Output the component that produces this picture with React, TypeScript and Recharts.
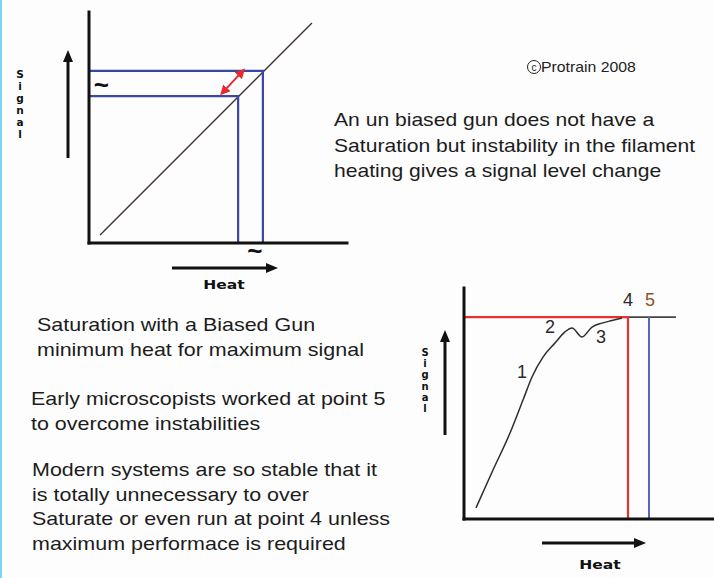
import React from 'react';
import { ComposedChart, Line, XAxis, YAxis, ReferenceDot } from 'recharts';

// ---------- Left chart (un-biased gun) ----------
const leftDiagonal = [
  { x: 4.3, y: 3.5 },
  { x: 86.4, y: 95.2 },
];
const leftUpperLevel = [
  { x: 0, y: 74.5 },
  { x: 67.4, y: 74.5 },
  { x: 67.4, y: 0 },
];
const leftLowerLevel = [
  { x: 0, y: 63.6 },
  { x: 57.8, y: 63.6 },
  { x: 57.8, y: 0 },
];
const leftShift = [
  { x: 51.6, y: 64.9 },
  { x: 59.7, y: 74.6 },
];
const leftTildes = [
  { x: 4.8, y: 68.5, label: '~' },
  { x: 64.3, y: -3.5, label: '~' },
];

// ---------- Right chart (biased gun saturation) ----------
const rightCurve = [
  { x: 4.8, y: 4.8 },
  { x: 11.6, y: 21.2 },
  { x: 18.4, y: 37.2 },
  { x: 23.6, y: 51.5 },
  { x: 27.2, y: 61.5 },
  { x: 31.6, y: 70.1 },
  { x: 36.4, y: 76.2 },
  { x: 40.4, y: 81.0 },
  { x: 43.2, y: 82.7 },
  { x: 47.2, y: 78.8 },
  { x: 51.2, y: 83.1 },
  { x: 55.2, y: 84.8 },
  { x: 59.2, y: 85.9 },
  { x: 63.2, y: 87.0 },
];
const rightRedLevel = [
  { x: 0, y: 87.4 },
  { x: 65.6, y: 87.4 },
  { x: 65.6, y: 0 },
];
const rightBlueLine = [
  { x: 74.0, y: 87.4 },
  { x: 74.0, y: 0 },
];
const rightBlackLevel = [
  { x: 65.6, y: 87.4 },
  { x: 84.8, y: 87.4 },
];
const rightPointLabels = [
  { x: 23.2, y: 63.6, label: '1', color: '#2a2a2a' },
  { x: 34.4, y: 83.1, label: '2', color: '#2a2a2a' },
  { x: 54.8, y: 78.8, label: '3', color: '#2a2a2a' },
  { x: 65.6, y: 94.6, label: '4', color: '#2a2a2a' },
  { x: 74.4, y: 94.6, label: '5', color: '#8a5526' },
];

// ---------- Texts ----------
const copyrightText = 'Protrain 2008';
const topNoteLines = [
  'An un biased gun does not have a',
  'Saturation but instability in the filament',
  'heating gives a signal level change',
];
const noteBlocks = [
  { left: 37, top: 313, lines: ['Saturation with a Biased Gun', 'minimum heat for maximum signal'] },
  { left: 31, top: 387, lines: ['Early microscopists worked at point 5', 'to overcome instabilities'] },
  { left: 32, top: 458, lines: ['Modern systems are so stable that it', 'is totally unnecessary to over', 'Saturate or even run at point 4 unless', 'maximum performace is required'] },
];
const axisWordSignal = 'Signal';
const axisWordHeat = 'Heat';

const FONT = '"Liberation Sans", Arial, sans-serif';
const BOLDFONT = '"DejaVu Sans", Verdana, sans-serif';
const W = 714;
const H = 578;

const layerStyle: React.CSSProperties = { position: 'absolute', left: 0, top: 0 };

function NumLabel(props: any) {
  const { cx, cy, text, color, size, bold } = props;
  return (
    <text
      x={cx}
      y={cy}
      textAnchor="middle"
      dominantBaseline="central"
      fontFamily={FONT}
      fontSize={size}
      fontWeight={bold ? 700 : 400}
      fill={color}
    >
      {text}
    </text>
  );
}

const axisLineStyle = { stroke: '#111', strokeWidth: 3, strokeLinecap: 'square' as const };

function LeftChart() {
  return (
    <div style={layerStyle}>
      <ComposedChart width={W} height={H} margin={{ top: 12, left: 88, right: W - 347, bottom: H - 243 - 1 }}>
        <XAxis dataKey="x" type="number" domain={[0, 100]} allowDataOverflow tick={false} tickLine={false} height={1} axisLine={axisLineStyle} />
        <YAxis dataKey="y" type="number" domain={[0, 100]} allowDataOverflow tick={false} tickLine={false} width={1} axisLine={axisLineStyle} />
        <Line data={leftDiagonal} dataKey="y" type="linear" stroke="#3d3434" strokeWidth={1.4} dot={false} activeDot={false} isAnimationActive={false} />
        <Line data={leftUpperLevel} dataKey="y" type="linear" stroke="#3b47a3" strokeWidth={2.2} dot={false} activeDot={false} isAnimationActive={false} />
        <Line data={leftLowerLevel} dataKey="y" type="linear" stroke="#3b47a3" strokeWidth={2.2} dot={false} activeDot={false} isAnimationActive={false} />
        <Line
          data={leftShift}
          dataKey="y"
          type="linear"
          stroke="#e62a2e"
          strokeWidth={2}
          dot={false}
          activeDot={false}
          isAnimationActive={false}
          markerStart="url(#redHead)"
          markerEnd="url(#redHead)"
        />
        {leftTildes.map((t, i) => (
          <ReferenceDot
            key={i}
            x={t.x}
            y={t.y}
            r={0}
            ifOverflow="visible"
            shape={(p: any) => <NumLabel cx={p.cx} cy={p.cy} text={t.label} color="#111" size={26} bold />}
          />
        ))}
      </ComposedChart>
    </div>
  );
}

function RightChart() {
  return (
    <div style={layerStyle}>
      <ComposedChart width={W} height={H} margin={{ top: 288, left: 463, right: 0, bottom: H - 519 - 1 }}>
        <XAxis dataKey="x" type="number" domain={[0, 100]} allowDataOverflow tick={false} tickLine={false} height={1} axisLine={axisLineStyle} />
        <YAxis dataKey="y" type="number" domain={[0, 100]} allowDataOverflow tick={false} tickLine={false} width={1} axisLine={axisLineStyle} />
        <Line data={rightBlackLevel} dataKey="y" type="linear" stroke="#444" strokeWidth={1.6} dot={false} activeDot={false} isAnimationActive={false} />
        <Line data={rightRedLevel} dataKey="y" type="linear" stroke="#e8312e" strokeWidth={2.2} dot={false} activeDot={false} isAnimationActive={false} />
        <Line data={rightBlueLine} dataKey="y" type="linear" stroke="#5468b8" strokeWidth={2} dot={false} activeDot={false} isAnimationActive={false} />
        <Line data={rightCurve} dataKey="y" type="monotone" stroke="#2e2e2e" strokeWidth={1.5} dot={false} activeDot={false} isAnimationActive={false} />
        {rightPointLabels.map((t, i) => (
          <ReferenceDot
            key={i}
            x={t.x}
            y={t.y}
            r={0}
            ifOverflow="visible"
            shape={(p: any) => <NumLabel cx={p.cx} cy={p.cy} text={t.label} color={t.color} size={18} />}
          />
        ))}
      </ComposedChart>
    </div>
  );
}

function SignalWord({ x, ys, size }: { x: number; ys: number[]; size: number }) {
  return (
    <text fontFamily={BOLDFONT} fontWeight={700} fontSize={size} fill="#111" textAnchor="middle" dominantBaseline="central">
      {axisWordSignal.split('').map((c, i) => (
        <tspan key={i} x={x} y={ys[i]}>{c}</tspan>
      ))}
    </text>
  );
}

function HeatWord({ x, y }: { x: number; y: number }) {
  return (
    <text
      transform={`translate(${x},${y}) scale(1.25,1)`}
      fontFamily={BOLDFONT}
      fontWeight={700}
      fontSize={12.5}
      fill="#111"
      textAnchor="middle"
      dominantBaseline="central"
    >
      {axisWordHeat}
    </text>
  );
}

function Decorations() {
  const leftSignalYs = [74, 86, 98, 110, 122, 134];
  const rightSignalYs = [352, 363, 374, 386, 397, 408];
  return (
    <svg width={W} height={H} style={layerStyle}>
      <defs>
        <marker id="redHead" viewBox="0 0 10 10" refX="7" refY="5" markerWidth="5" markerHeight="5" orient="auto-start-reverse">
          <path d="M0,0 L10,5 L0,10 z" fill="#e62a2e" />
        </marker>
      </defs>
      {/* left axis words */}
      <SignalWord x={20} ys={leftSignalYs} size={10.5} />
      <line x1={68} y1={158} x2={68} y2={60} stroke="#111" strokeWidth={3} />
      <path d="M63,62 L68,50 L73,62 z" fill="#111" />
      <line x1={172} y1={268} x2={268} y2={268} stroke="#111" strokeWidth={3} />
      <path d="M266,263 L278,268 L266,273 z" fill="#111" />
      <HeatWord x={224} y={285} />

      {/* right axis words */}
      <SignalWord x={425} ys={rightSignalYs} size={10} />
      <line x1={445} y1={435} x2={445} y2={340} stroke="#111" strokeWidth={3} />
      <path d="M440,342 L445,330 L450,342 z" fill="#111" />
      <line x1={542} y1={543} x2={636} y2={543} stroke="#111" strokeWidth={3} />
      <path d="M634,538 L646,543 L634,548 z" fill="#111" />
      <HeatWord x={600} y={565} />

      {/* copyright */}
      <circle cx={534} cy={67} r={6.5} fill="none" stroke="#222" strokeWidth={1} />
      <text x={534} y={67.5} fontFamily={FONT} fontSize={10} fill="#222" textAnchor="middle" dominantBaseline="central">c</text>
      <text transform="translate(541,67) scale(1.13,1)" fontFamily={FONT} fontSize={14} fill="#222" dominantBaseline="central">{copyrightText}</text>
    </svg>
  );
}

function TextBlock({ left, top, lines, size, lh, sx }: { left: number; top: number; lines: string[]; size: number; lh: number; sx: number }) {
  return (
    <div
      style={{
        position: 'absolute',
        left,
        top,
        fontFamily: FONT,
        fontSize: size,
        lineHeight: `${lh}px`,
        color: '#1c1c1c',
        whiteSpace: 'nowrap',
        transform: `scaleX(${sx})`,
        transformOrigin: '0 0',
      }}
    >
      {lines.map((l, i) => (
        <div key={i}>{l}</div>
      ))}
    </div>
  );
}

export default function App() {
  return (
    <div style={{ position: 'absolute', left: 0, top: 0, width: W, height: H, background: '#fdfdfd', overflow: 'hidden' }}>
      <div style={{ position: 'absolute', left: 0, top: 0, width: 2, height: H, background: '#7fd3f2' }} />
      <LeftChart />
      <RightChart />
      <Decorations />
      <TextBlock left={334} top={107} lines={topNoteLines} size={19} lh={25.5} sx={1.11} />
      {noteBlocks.map((b, i) => (
        <TextBlock key={i} left={b.left} top={b.top} lines={b.lines} size={19} lh={24.5} sx={1.13} />
      ))}
    </div>
  );
}
